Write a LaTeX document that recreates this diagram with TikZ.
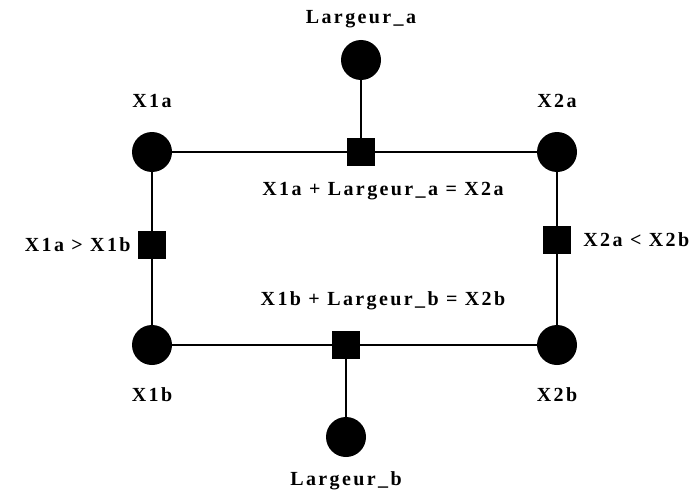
\documentclass[tikz,border=0pt]{standalone}
\usepackage{fontspec}
\setmainfont{Liberation Serif}[LetterSpace=12]
\usetikzlibrary{positioning}
\tikzset{
  varnode/.style={
    circle, fill=black, minimum size=40pt, inner sep=0pt
  },
  consnode/.style={
    rectangle, fill=black, minimum size=28pt, inner sep=0pt
  },
  link/.style={
    draw=black, line width=1.2pt
  },
  varlabel/.style={
    font=\fontsize{20}{20}\selectfont\bfseries, inner sep=0pt
  },
}
\begin{document}
\begin{tikzpicture}[x=1pt, y=-1pt]

  \useasboundingbox (0,0) rectangle (700,492);

  %% variables
  \node[varnode] (La)  at (361,60)  {};
  \node[varnode] (X1a) at (152,152) {};
  \node[varnode] (X2a) at (557,152) {};
  \node[varnode] (X1b) at (152,345) {};
  \node[varnode] (X2b) at (557,345) {};
  \node[varnode] (Lb)  at (346,437) {};

  %% constraints
  \node[consnode] (cTop)    at (361,152) {};
  \node[consnode] (cLeft)   at (152,245) {};
  \node[consnode] (cRight)  at (557,240) {};
  \node[consnode] (cBottom) at (346,345) {};

  %% links
  \draw[link] (X1a) -- (cTop) -- (X2a);
  \draw[link] (La) -- (cTop);
  \draw[link] (X1a) -- (cLeft) -- (X1b);
  \draw[link] (X2a) -- (cRight) -- (X2b);
  \draw[link] (X1b) -- (cBottom) -- (X2b);
  \draw[link] (Lb) -- (cBottom);

  %% labels
  \node[varlabel, above=12pt of La]  (tLa)  {Largeur\_a};
  \node[varlabel, above=24pt of X1a] (tX1a) {X1a};
  \node[varlabel, above=24pt of X2a] (tX2a) {X2a};
  \node[varlabel, below=22pt of X1b] (tX1b) {X1b};
  \node[varlabel, below=22pt of X2b] (tX2b) {X2b};
  \node[varlabel, below=14pt of Lb]  (tLb)  {Largeur\_b};

  \node[varlabel, below=16pt of cTop, xshift=22pt] (tTop)
    {X1a + Largeur\_a = X2a};
  \node[varlabel, above=21pt of cBottom, xshift=37pt] (tBottom)
    {X1b + Largeur\_b = X2b};
  \node[varlabel, left=7pt of cLeft] (tLeft) {X1a > X1b};
  \node[varlabel, right=12pt of cRight] (tRight) {X2a < X2b};

\end{tikzpicture}
\end{document}
